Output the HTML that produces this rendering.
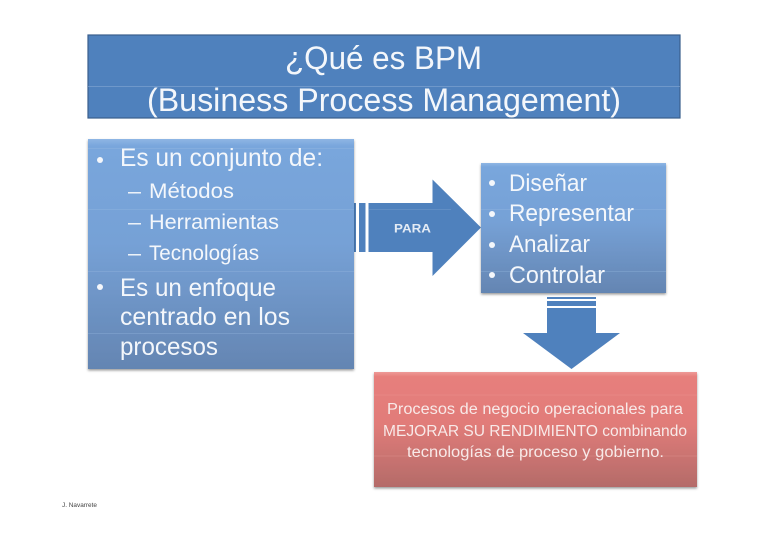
<!DOCTYPE html>
<html><head><meta charset="utf-8"><style>
html,body{margin:0;padding:0;background:#fff;width:768px;height:543px;overflow:hidden}
svg{display:block}
text{font-family:"Liberation Sans",sans-serif;fill:#f4f7fb}
</style></head><body>
<svg width="768" height="543" viewBox="0 0 768 543" xmlns="http://www.w3.org/2000/svg">
<defs>
<linearGradient id="b" x1="0" y1="0" x2="0" y2="1">
<stop offset="0" stop-color="#8fb6e4"/><stop offset=".03" stop-color="#79a6dc"/><stop offset=".45" stop-color="#76a1d6"/><stop offset="1" stop-color="#6485b2"/>
</linearGradient>
<linearGradient id="r" x1="0" y1="0" x2="0" y2="1">
<stop offset="0" stop-color="#ee9a97"/><stop offset=".04" stop-color="#e77f7c"/><stop offset=".45" stop-color="#e17c79"/><stop offset="1" stop-color="#b46b69"/>
</linearGradient>
<filter id="s" x="-5%" y="-5%" width="110%" height="112%"><feDropShadow dx="0" dy="1.5" stdDeviation="1.2" flood-color="#000" flood-opacity=".4"/></filter>
</defs>

<!-- title -->
<rect x="88" y="35" width="592" height="83" fill="#4f81bd" stroke="#3a5f8c" stroke-width="1.2"/>
<line x1="88" y1="86.500" x2="680" y2="86.500" stroke="#8fb0d8" stroke-width=".6"/>
<text x="285" y="69" font-size="32" textLength="197" lengthAdjust="spacingAndGlyphs">¿Qué es BPM</text>
<text x="147" y="111" font-size="32" textLength="474" lengthAdjust="spacingAndGlyphs">(Business Process Management)</text>

<!-- right arrow -->
<polygon points="354,203 432.5,203 432.5,179.5 481,227.5 432.5,276 432.5,252 354,252" fill="#4f81bd"/>
<rect x="356" y="203" width="3" height="49" fill="#fff"/>
<rect x="365.5" y="203" width="3" height="49" fill="#fff"/>
<line x1="369" y1="209.500" x2="451" y2="209.500" stroke="#7fa3cf" stroke-width=".4"/>
<text x="394" y="232.500" font-size="12" font-weight="bold" textLength="37" lengthAdjust="spacingAndGlyphs" style="fill:#e3ebf5">PARA</text>

<!-- left box -->
<rect x="88" y="139" width="266" height="230" fill="url(#b)" filter="url(#s)"/>
<g stroke="#9dbde3" stroke-width=".5" opacity=".6">
<line x1="88" y1="148.500" x2="354" y2="148.500"/><line x1="88" y1="209.500" x2="354" y2="209.500"/><line x1="88" y1="271.500" x2="354" y2="271.500"/><line x1="88" y1="333.500" x2="354" y2="333.500"/>
</g>
<circle cx="100" cy="160" r="3" fill="#f4f7fb"/>
<text x="120" y="166" font-size="25" textLength="203" lengthAdjust="spacingAndGlyphs">Es un conjunto de:</text>
<text x="128" y="198" font-size="21.500" textLength="13" lengthAdjust="spacingAndGlyphs">–</text>
<text x="149" y="198" font-size="21.500" textLength="85" lengthAdjust="spacingAndGlyphs">Métodos</text>
<text x="128" y="229" font-size="21.500" textLength="13" lengthAdjust="spacingAndGlyphs">–</text>
<text x="149" y="229" font-size="21.500" textLength="130" lengthAdjust="spacingAndGlyphs">Herramientas</text>
<text x="128" y="260" font-size="21.500" textLength="13" lengthAdjust="spacingAndGlyphs">–</text>
<text x="149" y="260" font-size="21.500" textLength="110" lengthAdjust="spacingAndGlyphs">Tecnologías</text>
<circle cx="100" cy="287" r="3" fill="#f4f7fb"/>
<text x="120" y="296" font-size="25" textLength="156" lengthAdjust="spacingAndGlyphs">Es un enfoque</text>
<text x="120" y="325" font-size="25" textLength="170" lengthAdjust="spacingAndGlyphs">centrado en los</text>
<text x="120" y="355" font-size="25" textLength="98" lengthAdjust="spacingAndGlyphs">procesos</text>

<!-- right box -->
<rect x="481" y="163" width="185" height="130" fill="url(#b)" filter="url(#s)"/>
<g stroke="#9dbde3" stroke-width=".5" opacity=".6">
<line x1="481" y1="209.500" x2="666" y2="209.500"/><line x1="481" y1="271.500" x2="666" y2="271.500"/>
</g>
<circle cx="492" cy="183" r="3" fill="#f4f7fb"/>
<text x="509" y="191" font-size="24" textLength="78" lengthAdjust="spacingAndGlyphs">Diseñar</text>
<circle cx="492" cy="214" r="3" fill="#f4f7fb"/>
<text x="509" y="221" font-size="24" textLength="125" lengthAdjust="spacingAndGlyphs">Representar</text>
<circle cx="492" cy="245" r="3" fill="#f4f7fb"/>
<text x="509" y="252" font-size="24" textLength="81" lengthAdjust="spacingAndGlyphs">Analizar</text>
<circle cx="492" cy="275" r="3" fill="#f4f7fb"/>
<text x="509" y="283" font-size="24" textLength="96" lengthAdjust="spacingAndGlyphs">Controlar</text>

<!-- down arrow -->
<polygon points="547,297 596,297 596,333 620,333 571.500,369 523,333 547,333" fill="#4f81bd"/>
<rect x="547" y="299" width="49" height="2" fill="#fff"/>
<rect x="547" y="306" width="49" height="2" fill="#fff"/>

<!-- red box -->
<rect x="374" y="372" width="323" height="115" fill="url(#r)" filter="url(#s)"/>
<g stroke="#f0a5a2" stroke-width=".5" opacity=".5">
<line x1="374" y1="395" x2="697" y2="395"/><line x1="374" y1="456" x2="697" y2="456"/>
</g>
<text x="387" y="414" font-size="15.500" textLength="296" lengthAdjust="spacingAndGlyphs" style="fill:#f8e9e8">Procesos de negocio operacionales para</text>
<text x="383" y="436" font-size="15.500" textLength="304" lengthAdjust="spacingAndGlyphs" style="fill:#f8e9e8">MEJORAR SU RENDIMIENTO combinando</text>
<text x="407" y="457" font-size="15.500" textLength="257" lengthAdjust="spacingAndGlyphs" style="fill:#f8e9e8">tecnologías de proceso y gobierno.</text>

<text x="62" y="507" font-size="6.500" textLength="35" lengthAdjust="spacingAndGlyphs" style="fill:#444">J. Navarrete</text>
</svg>
</body></html>
